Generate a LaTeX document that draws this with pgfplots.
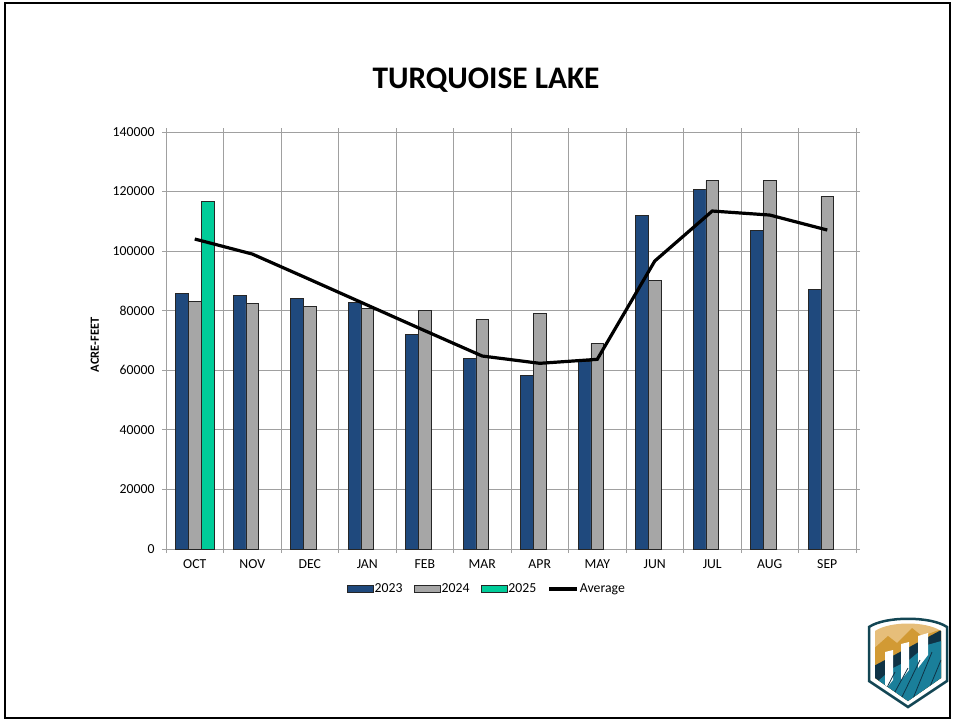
\documentclass[border=0pt]{standalone}
\usepackage{pgfplots}
\pgfplotsset{compat=1.18}
\usepackage{fontspec}
\setmainfont{Carlito}
\definecolor{c23}{HTML}{1F497D}
\definecolor{c24}{HTML}{A6A6A6}
\definecolor{c25}{HTML}{00CC99}
\definecolor{gridc}{HTML}{A0A0A0}
\definecolor{logodark}{HTML}{134654}
\definecolor{logoteal}{HTML}{1A7F9A}
\definecolor{logogold}{HTML}{D29A34}
\definecolor{logolight}{HTML}{E6BE7A}
\definecolor{logonavy}{HTML}{0F3346}
\pgfplotsset{
  barleg/.style={legend image code/.code={\draw[##1] (0bp,-3.5bp) rectangle (26bp,3.5bp);}},
  lineleg/.style={legend image code/.code={\draw[##1] (0bp,0bp) -- (28bp,0bp);}},
}
\begin{document}
\begin{tikzpicture}
\path[use as bounding box] (0,0) rectangle (955bp,-721bp);
\draw[line width=1.5bp] (5bp,-3bp) rectangle (950bp,-718bp);
\node[font=\fontsize{31.5}{36}\selectfont\bfseries] at (486bp,-80bp) {TURQUOISE LAKE};
\begin{axis}[
  at={(166bp,-549bp)}, anchor=south west,
  scale only axis, width=690bp, height=417bp,
  xmin=-0.5, xmax=11.5, ymin=0, ymax=140000,
  ytick={0,20000,...,140000},
  scaled y ticks=false,
  yticklabel style={/pgf/number format/fixed, /pgf/number format/precision=0, xshift=-4bp},
  xticklabel style={yshift=-3bp},
  xtick={0,...,11},
  xticklabels={OCT,NOV,DEC,JAN,FEB,MAR,APR,MAY,JUN,JUL,AUG,SEP},
  minor xtick={-0.5,0.5,...,11.5},
  xmajorgrids=false, xminorgrids=true, ymajorgrids=true,
  grid style={gridc, line width=0.8bp},
  minor grid style={gridc, line width=0.8bp},
  axis line style={gridc, line width=0.8bp},
  tick align=outside,
  major tick length=4bp, minor tick length=4bp,
  major x tick style={draw=none},
  every tick/.style={gridc, line width=0.8bp},
  minor tick style={gridc, line width=0.8bp},
  /pgf/number format/1000 sep={},
  /pgf/number format/assume math mode=true,
  tick label style={font=\fontsize{13.8}{16}\selectfont},
  ylabel={ACRE-FEET},
  every axis y label/.style={at={(axis description cs:-0.103,0.49)}, rotate=90, anchor=center, font=\fontsize{12.5}{14}\selectfont\bfseries},
  legend columns=4,
  legend style={at={(axis description cs:0.4645,-0.0959)}, anchor=center, draw=none, font=\fontsize{13.8}{16}\selectfont, nodes={inner sep=1.2bp}, /tikz/every even column/.append style={column sep=10bp}},
]
\addplot[ybar, bar width=12.7bp, bar shift=-12.7bp, fill=c23, draw=black!85, line width=0.6bp, barleg]
  coordinates {(0,85700) (1,85170) (2,84150) (3,82920) (4,72180) (5,64010) (6,58410) (7,62900) (8,111900) (9,120750) (10,106860) (11,87170)};
\addlegendentry{2023}
\addplot[ybar, bar width=12.7bp, bar shift=0bp, fill=c24, draw=black!85, line width=0.6bp, barleg]
  coordinates {(0,83260) (1,82350) (2,81470) (3,80800) (4,80230) (5,76980) (6,79120) (7,68920) (8,90070) (9,123640) (10,123640) (11,118400)};
\addlegendentry{2024}
\addplot[ybar, bar width=12.7bp, bar shift=12.7bp, fill=c25, draw=black!85, line width=0.6bp, barleg]
  coordinates {(0,116800)};
\addlegendentry{2025}
\addplot[sharp plot, black, line width=3.2bp, no marks, lineleg]
  coordinates {(0,104070) (1,99030) (2,90500) (3,81900) (4,73300) (5,64790) (6,62340) (7,63680) (8,96680) (9,113470) (10,112120) (11,107090)};
\addlegendentry{Average}
\end{axis}
\begin{scope}[x=1bp,y=-1bp]
\path[fill=white, draw=logodark, line width=2.5bp] (869,627) .. controls (885,616) and (931,616) .. (947,627) -- (947,681) -- (908,707) -- (869,681) -- cycle;
\begin{scope}
\clip (875,631) .. controls (890,621) and (926,621) .. (941,631) -- (941,678) -- (908,701) -- (875,678) -- cycle;
\fill[logolight] (860,600) rectangle (955,710);
\fill[logogold] (870,652) -- (888,636) -- (897,643) -- (912,628) -- (922,636) -- (945,628) -- (945,710) -- (870,710) -- cycle;
\fill[logonavy] (870,668) -- (945,628) -- (945,710) -- (870,710) -- cycle;
\fill[logoteal] (870,688) -- (893,668) -- (909,660) -- (927,645) -- (945,640) -- (945,710) -- (870,710) -- cycle;
\fill[white] (885,652) -- (893,650) -- (893,680) -- (885,690) -- cycle;
\fill[white] (901,644) -- (909,642) -- (909,670) -- (901,680) -- cycle;
\fill[white] (918,636) -- (928,633) -- (928,655) -- (918,668) -- cycle;
\draw[logonavy, line width=0.8bp] (880,701) -- (895,672) (890,701) -- (908,668) (900,701) -- (920,660) (912,701) -- (932,652) (924,701) -- (941,660);
\end{scope}
\end{scope}
\end{tikzpicture}
\end{document}
